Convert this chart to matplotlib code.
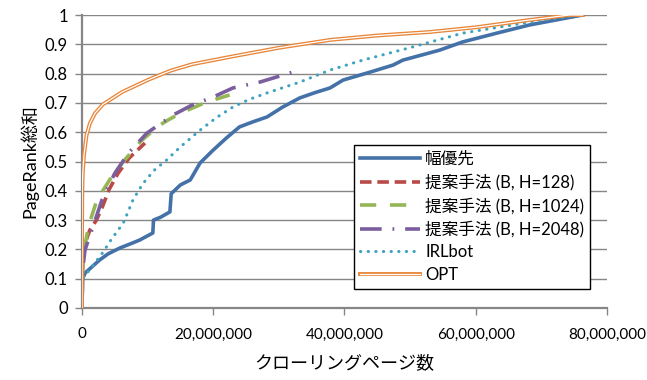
import numpy as np
import matplotlib.pyplot as plt
from matplotlib.ticker import FuncFormatter
from matplotlib.lines import Line2D

plt.rcParams['font.family'] = ['Lato', 'Noto Sans CJK JP', 'DejaVu Sans']

# x values in millions of crawled pages
bfs_x = [0, 0.1, 0.5, 1.5, 2.7, 4, 5.8, 7.5, 8.8, 10.8, 10.9, 12, 13.4, 13.6, 15, 16.5, 18, 20,
         22, 24, 26, 28.2, 30.6, 33.2, 35.5, 37.8, 39.8, 43.9, 47.4, 48.9, 54.5, 58, 63.2, 68.2, 72, 76.3]
bfs_y = [0, 0.1, 0.12, 0.14, 0.164, 0.185, 0.205, 0.22, 0.232, 0.256, 0.30, 0.31, 0.328, 0.39, 0.42, 0.437,
         0.495, 0.539, 0.58, 0.618, 0.635, 0.652, 0.686, 0.717, 0.735, 0.751, 0.778, 0.805, 0.829, 0.846,
         0.88, 0.908, 0.938, 0.966, 0.982, 1.0]

h128_x = [0, 0.15, 1.2, 2.2, 3.2, 4.1, 5.5, 7.2, 9.6]
h128_y = [0, 0.2, 0.266, 0.30, 0.35, 0.403, 0.46, 0.512, 0.563]

h1024_x = [0, 0.15, 1, 2.3, 4.3, 6.5, 9, 11.7, 13, 15, 19, 22.5]
h1024_y = [0, 0.174, 0.28, 0.37, 0.44, 0.505, 0.57, 0.622, 0.64, 0.665, 0.703, 0.727]

h2048_x = [0, 0.1, 0.46, 1.5, 3.05, 5.0, 7.2, 9.9, 11.7, 14, 16.8, 20, 23, 27.1, 32.1]
h2048_y = [0, 0.13, 0.198, 0.266, 0.369, 0.46, 0.532, 0.597, 0.625, 0.66, 0.693, 0.72, 0.751,
           0.771, 0.805]

irl_x = [0, 0.1, 1.5, 3.2, 4.5, 6.3, 7.8, 9.3, 11, 12.9, 15, 18, 20.5, 23, 25.5, 28.2, 33.2, 37.8,
         42.8, 50.4, 58, 65.6, 71, 75.9]
irl_y = [0, 0.1, 0.14, 0.19, 0.235, 0.29, 0.37, 0.425, 0.47, 0.505, 0.55, 0.607, 0.65, 0.686, 0.712,
         0.734, 0.771, 0.812, 0.846, 0.891, 0.938, 0.966, 0.985, 1.0]

opt_x = [0, 0.02, 0.05, 0.12, 0.3, 0.7, 1.2, 2, 3.2, 6.1, 10.2, 13.5, 16.8, 23, 30, 37.8, 45, 53, 60,
         68.2, 74.3, 76.3]
opt_y = [0, 0.3, 0.4, 0.46, 0.52, 0.59, 0.63, 0.665, 0.695, 0.737, 0.78, 0.81, 0.832, 0.859, 0.888,
         0.915, 0.93, 0.942, 0.958, 0.983, 1.0, 1.0]

x_ticks = [0, 20, 40, 60, 80]
y_ticks = [0, 0.1, 0.2, 0.3, 0.4, 0.5, 0.6, 0.7, 0.8, 0.9, 1]

fig = plt.figure(figsize=(6.47, 3.80), dpi=100)
ax = fig.add_axes([0.1267, 0.1895, 0.8113, 0.771])

grey = '#868686'
ax.plot(bfs_x, bfs_y, color='#4472A8', lw=2.6, label='幅優先', zorder=3)
ax.plot(h128_x, h128_y, color='#B94A47', lw=2.6, dashes=(3.2, 1.6), label='提案手法 (B, H=128)', zorder=4)
ax.plot(h1024_x, h1024_y, color='#95B656', lw=2.6, dashes=(4.5, 3.8), label='提案手法 (B, H=1024)', zorder=5)
ax.plot(h2048_x, h2048_y, color='#7B5E9E', lw=2.6, dashes=(6, 3, 0.5, 3),
        label='提案手法 (B, H=2048)', zorder=6)
ax.plot(irl_x, irl_y, color='#3FA3BF', lw=2.2, dashes=(0.1, 2.4), dash_capstyle='round',
        label='IRLbot', zorder=4)
# OPT drawn as a double line
ax.plot(opt_x, opt_y, color='#E8863A', lw=2.8, zorder=7)
ax.plot(opt_x, opt_y, color='white', lw=0.9, zorder=8)

ax.set_xlim(0, 80)
ax.set_ylim(0, 1)
ax.set_xticks(x_ticks)
ax.set_yticks(y_ticks)
ax.xaxis.set_major_formatter(FuncFormatter(lambda v, p: f'{int(v * 1e6):,}'))
ax.yaxis.set_major_formatter(FuncFormatter(lambda v, p: f'{v:g}'))
ax.grid(axis='y', color=grey, lw=1)
ax.set_axisbelow(True)
for s in ['top', 'right']:
    ax.spines[s].set_visible(False)
for s in ['left', 'bottom']:
    ax.spines[s].set_color(grey)
    ax.spines[s].set_linewidth(1.6)
ax.tick_params(axis='y', direction='out', length=5, width=1, color=grey, labelsize=12, pad=5)
ax.tick_params(axis='x', direction='out', length=5, width=1, color=grey, labelsize=11, pad=9)

ax.set_xlabel('クローリングページ数', fontsize=13, labelpad=9)
ax.set_ylabel('PageRank総和', fontsize=13, labelpad=5)

handles, labels = ax.get_legend_handles_labels()
opt_handle = (Line2D([], [], color='#E8863A', lw=2.8), Line2D([], [], color='white', lw=0.9))
handles.append(opt_handle)
labels.append('OPT')
leg = ax.legend(handles, labels, loc='lower right', bbox_to_anchor=(0.984, 0.037), fontsize=12,
                frameon=True, fancybox=False, edgecolor='black', framealpha=1,
                handlelength=3.6, handletextpad=0.3, labelspacing=0.4, borderpad=0.35)
leg.get_frame().set_linewidth(1)

fig.savefig('out.png', dpi=100)
